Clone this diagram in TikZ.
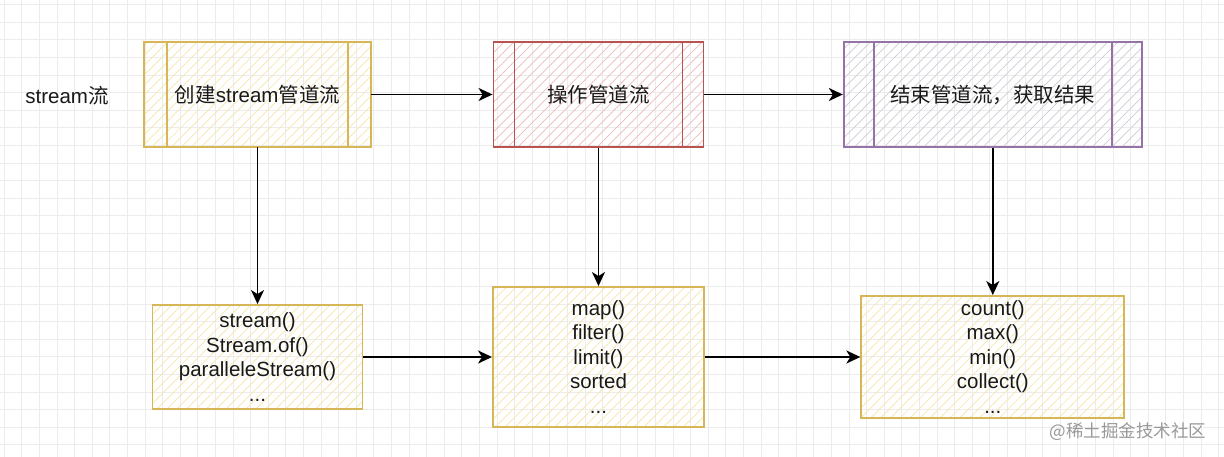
\documentclass[tikz,border=0pt]{standalone}
\usepackage{fontspec}
\setmainfont{Liberation Sans}
\newfontfamily\cjk{Noto Sans CJK SC}
\usepackage{tikz}
\usetikzlibrary{arrows.meta,patterns.meta}
\definecolor{yelline}{RGB}{214,182,86}
\definecolor{yelhatch}{RGB}{247,230,170}
\definecolor{redline}{RGB}{184,84,80}
\definecolor{redhatch}{RGB}{238,186,184}
\definecolor{purline}{RGB}{150,115,166}
\definecolor{purhatch}{RGB}{208,204,214}
\definecolor{gridc}{RGB}{236,236,236}

\tikzset{
  boxtext/.style={font=\fontsize{20.5}{24.5}\selectfont, align=center, text=black!90, inner sep=0pt},
  hatchbox/.style 2 args={draw=#1, line width=1.9pt, pattern={Lines[angle=45,distance=7pt,line width=0.7pt]}, pattern color=#2, boxtext},
  procbox/.style 2 args={path picture={
    \draw[#1, line width=1.9pt]
      ([xshift=#2pt]path picture bounding box.north west) -- ([xshift=#2pt]path picture bounding box.south west)
      ([xshift=-#2pt]path picture bounding box.north east) -- ([xshift=-#2pt]path picture bounding box.south east);}},
  flow/.style={line width=1.8pt, -{Stealth[length=14pt,width=13pt,inset=4pt]}}
}

\begin{document}
\begin{tikzpicture}[x=1pt,y=1pt]
  \useasboundingbox[fill=white] (0,0) rectangle (1224,-457);
  % background grid
  \foreach \gx in {4.1,21.7,...,1224} \draw[gridc,line width=0.8pt] (\gx,0)--(\gx,-457);
  \foreach \gy in {4.7,22.3,...,457} \draw[gridc,line width=0.8pt] (0,-\gy)--(1224,-\gy);

  \node[boxtext] (label) at (67,-96) {stream{\cjk 流}};

  % stages
  \node[hatchbox={yelline}{yelhatch}, procbox={yelline}{22.7}, minimum width=227pt, minimum height=105pt] (create) at (257.5,-94.5) {{\cjk 创建}stream{\cjk 管道流}};
  \node[hatchbox={redline}{redhatch}, procbox={redline}{21}, minimum width=210pt, minimum height=105pt] (operate) at (598.5,-94.5) {\cjk 操作管道流};
  \node[hatchbox={purline}{purhatch}, procbox={purline}{29.8}, minimum width=298pt, minimum height=105pt] (finish) at (992.8,-94.5) {\cjk 结束管道流，获取结果};

  % methods
  \node[hatchbox={yelline}{yelhatch}, minimum width=210pt, minimum height=104pt] (srcops) at (257.5,-357) {stream()\\Stream.of()\\paralleleStream()\\...};
  \node[hatchbox={yelline}{yelhatch}, minimum width=211pt, minimum height=140pt] (midops) at (598.5,-357) {map()\\filter()\\limit()\\sorted\\...};
  \node[hatchbox={yelline}{yelhatch}, minimum width=263pt, minimum height=122pt] (endops) at (992.8,-357) {count()\\max()\\min()\\collect()\\...};

  \draw[flow] (create) -- (operate);
  \draw[flow] (operate) -- (finish);
  \draw[flow] (create) -- (srcops);
  \draw[flow] (operate) -- (midops);
  \draw[flow] (finish) -- (endops);
  \draw[flow] (srcops) -- (midops);
  \draw[flow] (midops) -- (endops);

  \node[font=\cjk\fontsize{17.5}{20}\selectfont, text=black!40, inner sep=0pt] (watermark) at (1128,-432) {@稀土掘金技术社区};
\end{tikzpicture}
\end{document}
